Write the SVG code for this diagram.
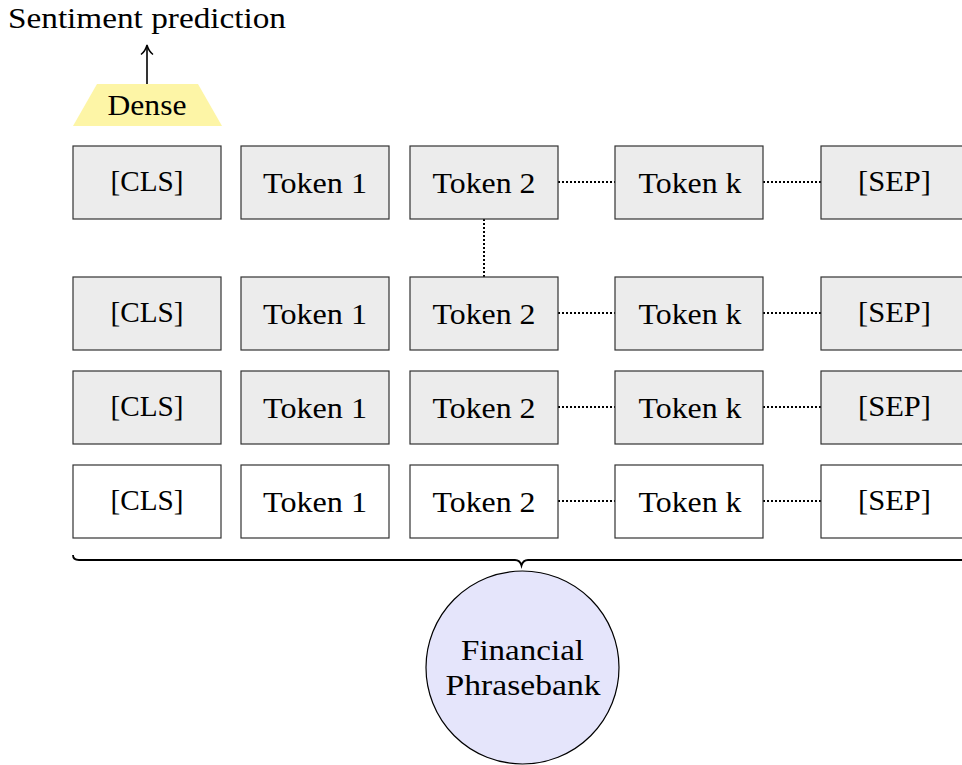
<svg xmlns="http://www.w3.org/2000/svg" width="962" height="765" viewBox="0 0 962 765" font-family="'Liberation Serif', 'Times New Roman', serif">
<style>
text{font-family:'Liberation Serif','Times New Roman',serif;font-size:29px;fill:#000;text-anchor:middle}
.box{fill:#ececec;stroke:#333;stroke-width:1.2}
.wbox{fill:#fff;stroke:#333;stroke-width:1.2}
.dot{stroke:#000;stroke-width:2;stroke-dasharray:2 2;fill:none}
</style>
<rect width="962" height="765" fill="#fff"/>
<g id="title"><text x="147" y="28" textLength="278" lengthAdjust="spacingAndGlyphs">Sentiment prediction</text></g>
<g id="dense">
<polygon points="97,84 198,84 222,126 73,126" fill="#fdf5a6"/>
<text x="147" y="115" textLength="79" lengthAdjust="spacingAndGlyphs">Dense</text>
</g>
<g id="connectors">
<line x1="147" y1="84" x2="147" y2="47" stroke="#000" stroke-width="1.6"/>
<path d="M141,54.5 Q145.5,51 147,45 Q148.5,51 153,54.5" fill="none" stroke="#000" stroke-width="1.5"/>
<line class="dot" x1="558" y1="182" x2="615" y2="182"/>
<line class="dot" x1="763" y1="182" x2="821" y2="182"/>
<line class="dot" x1="484" y1="219" x2="484" y2="277"/>
<line class="dot" x1="558" y1="313" x2="615" y2="313"/>
<line class="dot" x1="763" y1="313" x2="821" y2="313"/>
<line class="dot" x1="558" y1="407" x2="615" y2="407"/>
<line class="dot" x1="763" y1="407" x2="821" y2="407"/>
<line class="dot" x1="558" y1="501" x2="615" y2="501"/>
<line class="dot" x1="763" y1="501" x2="821" y2="501"/>
<path d="M73,555 Q73,560 79,560 L515,560 Q520,560 521.5,565.5 Q523,560 528,560 L970,560" fill="none" stroke="#000" stroke-width="1.8"/>
</g>
<g id="row1">
<g id="r1c1"><rect class="box" x="73" y="146" width="148" height="73"/><text x="147" y="191" textLength="73" lengthAdjust="spacingAndGlyphs">[CLS]</text></g>
<g id="r1c2"><rect class="box" x="241" y="146" width="148" height="73"/><text x="315" y="193" textLength="104" lengthAdjust="spacingAndGlyphs">Token 1</text></g>
<g id="r1c3"><rect class="box" x="410" y="146" width="148" height="73"/><text x="484" y="193" textLength="103" lengthAdjust="spacingAndGlyphs">Token 2</text></g>
<g id="r1c4"><rect class="box" x="615" y="146" width="148" height="73"/><text x="690" y="193" textLength="103" lengthAdjust="spacingAndGlyphs">Token k</text></g>
<g id="r1c5"><rect class="box" x="821" y="146" width="148" height="73"/><text x="894.5" y="191" textLength="73" lengthAdjust="spacingAndGlyphs">[SEP]</text></g>
</g>
<g id="row2">
<g id="r2c1"><rect class="box" x="73" y="277" width="148" height="73"/><text x="147" y="322" textLength="73" lengthAdjust="spacingAndGlyphs">[CLS]</text></g>
<g id="r2c2"><rect class="box" x="241" y="277" width="148" height="73"/><text x="315" y="324" textLength="104" lengthAdjust="spacingAndGlyphs">Token 1</text></g>
<g id="r2c3"><rect class="box" x="410" y="277" width="148" height="73"/><text x="484" y="324" textLength="103" lengthAdjust="spacingAndGlyphs">Token 2</text></g>
<g id="r2c4"><rect class="box" x="615" y="277" width="148" height="73"/><text x="690" y="324" textLength="103" lengthAdjust="spacingAndGlyphs">Token k</text></g>
<g id="r2c5"><rect class="box" x="821" y="277" width="148" height="73"/><text x="894.5" y="322" textLength="73" lengthAdjust="spacingAndGlyphs">[SEP]</text></g>
</g>
<g id="row3">
<g id="r3c1"><rect class="box" x="73" y="371" width="148" height="73"/><text x="147" y="416" textLength="73" lengthAdjust="spacingAndGlyphs">[CLS]</text></g>
<g id="r3c2"><rect class="box" x="241" y="371" width="148" height="73"/><text x="315" y="418" textLength="104" lengthAdjust="spacingAndGlyphs">Token 1</text></g>
<g id="r3c3"><rect class="box" x="410" y="371" width="148" height="73"/><text x="484" y="418" textLength="103" lengthAdjust="spacingAndGlyphs">Token 2</text></g>
<g id="r3c4"><rect class="box" x="615" y="371" width="148" height="73"/><text x="690" y="418" textLength="103" lengthAdjust="spacingAndGlyphs">Token k</text></g>
<g id="r3c5"><rect class="box" x="821" y="371" width="148" height="73"/><text x="894.5" y="416" textLength="73" lengthAdjust="spacingAndGlyphs">[SEP]</text></g>
</g>
<g id="row4">
<g id="r4c1"><rect class="wbox" x="73" y="465" width="148" height="73"/><text x="147" y="510" textLength="73" lengthAdjust="spacingAndGlyphs">[CLS]</text></g>
<g id="r4c2"><rect class="wbox" x="241" y="465" width="148" height="73"/><text x="315" y="512" textLength="104" lengthAdjust="spacingAndGlyphs">Token 1</text></g>
<g id="r4c3"><rect class="wbox" x="410" y="465" width="148" height="73"/><text x="484" y="512" textLength="103" lengthAdjust="spacingAndGlyphs">Token 2</text></g>
<g id="r4c4"><rect class="wbox" x="615" y="465" width="148" height="73"/><text x="690" y="512" textLength="103" lengthAdjust="spacingAndGlyphs">Token k</text></g>
<g id="r4c5"><rect class="wbox" x="821" y="465" width="148" height="73"/><text x="894.5" y="510" textLength="73" lengthAdjust="spacingAndGlyphs">[SEP]</text></g>
</g>
<g id="phrasebank">
<circle cx="522.5" cy="667.5" r="96.5" fill="#e5e5fb" stroke="#000" stroke-width="1.2"/>
<text x="522.5" y="660" textLength="123" lengthAdjust="spacingAndGlyphs">Financial</text>
<text x="523" y="695" textLength="155" lengthAdjust="spacingAndGlyphs">Phrasebank</text>
</g>
</svg>
